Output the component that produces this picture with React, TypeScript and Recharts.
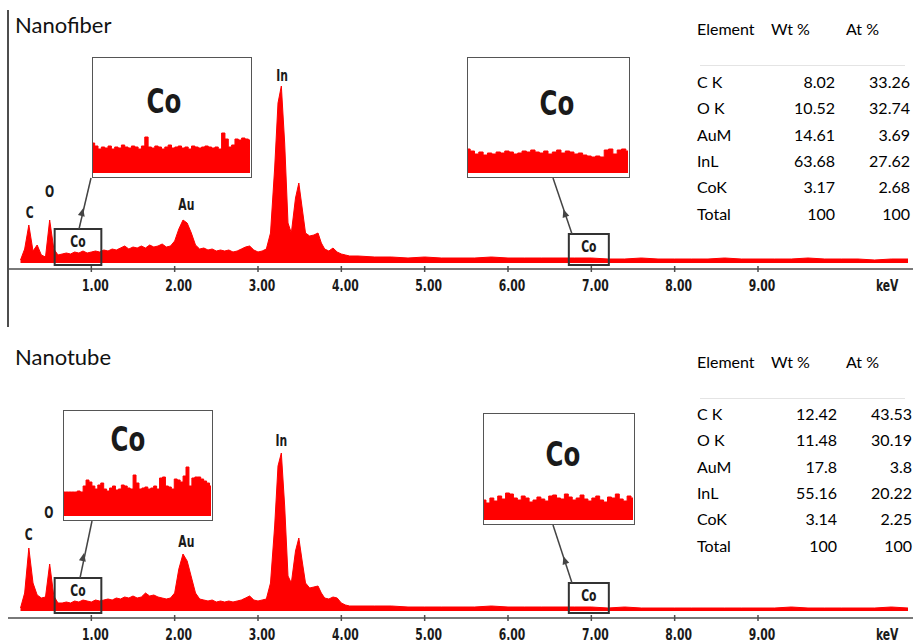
import { AreaChart, Area, XAxis, YAxis, ReferenceDot, ReferenceArea } from 'recharts'

const RED = '#ff0000'
const AXIS = '#4d4d4d'
const NARROW = '"Liberation Sans Narrow", "DejaVu Sans Condensed", sans-serif'
const TEXT = 'Lato, "Open Sans", sans-serif'

// energy axis (keV), shared by both spectra
const energy = [
  0.15, 0.2, 0.25, 0.3, 0.35, 0.4, 0.45, 0.5, 0.55, 0.6,
  0.65, 0.7, 0.75, 0.8, 0.85, 0.9, 0.95, 1.0, 1.05, 1.1,
  1.15, 1.2, 1.25, 1.3, 1.35, 1.4, 1.45, 1.5, 1.55, 1.6,
  1.65, 1.7, 1.75, 1.8, 1.85, 1.9, 1.95, 2.0, 2.05, 2.1,
  2.15, 2.2, 2.25, 2.3, 2.35, 2.4, 2.45, 2.5, 2.55, 2.6,
  2.65, 2.7, 2.75, 2.8, 2.85, 2.9, 2.95, 3.0, 3.05, 3.1,
  3.15, 3.2, 3.24, 3.28, 3.32, 3.36, 3.4, 3.45, 3.49, 3.53,
  3.57, 3.62, 3.67, 3.72, 3.76, 3.8, 3.85, 3.9, 3.95, 4.0,
  4.05, 4.1, 4.2, 4.4, 4.6, 4.8, 5.0, 5.2, 5.4, 5.6,
  5.8, 6.0, 6.2, 6.4, 6.6, 6.8, 7.0, 7.2, 7.4, 7.6,
  7.8, 8.0, 8.2, 8.4, 8.6, 8.8, 9.0, 9.2, 9.4, 9.6,
  9.8, 10.0, 10.2, 10.4, 10.6, 10.8,
]

const fiberCounts = [
  3, 14, 38, 12, 18, 8, 6, 43, 14, 8,
  9, 10, 9, 11, 10, 12, 10, 11, 12, 11,
  13, 12, 14, 13, 15, 17, 14, 16, 15, 17,
  15, 18, 16, 17, 19, 16, 17, 22, 34, 43,
  40, 30, 18, 14, 15, 13, 14, 12, 13, 12,
  13, 11, 12, 14, 16, 17, 13, 11, 12, 14,
  30, 95, 160, 177, 120, 40, 30, 65, 80, 55,
  30, 27, 28, 30, 20, 14, 12, 15, 11, 9,
  8, 7, 7, 6, 6, 5, 6, 5, 5, 5,
  6, 5, 5, 5, 5, 5, 5, 4, 4, 5,
  4, 4, 4, 4, 5, 4, 4, 4, 4, 5,
  4, 4, 4, 3, 4, 4,
]

const tubeCounts = [
  3, 18, 63, 28, 16, 13, 14, 47, 15, 8,
  8, 9, 8, 10, 9, 11, 10, 9, 11, 10,
  11, 12, 11, 13, 12, 14, 13, 15, 13, 14,
  18, 15, 16, 14, 13, 12, 13, 18, 42, 57,
  50, 34, 18, 12, 11, 10, 11, 9, 10, 9,
  10, 9, 10, 11, 13, 15, 11, 10, 11, 12,
  28, 85, 145, 158, 105, 35, 28, 60, 73, 50,
  28, 23, 24, 25, 18, 13, 12, 14, 13, 8,
  6, 5, 5, 5, 5, 4, 4, 4, 4, 4,
  5, 4, 4, 4, 4, 4, 4, 3, 4, 3,
  3, 3, 3, 3, 3, 3, 3, 3, 4, 3,
  3, 3, 3, 3, 4, 3,
]

const kevTicks = [1, 2, 3, 4, 5, 6, 7, 8, 9]
const unitTick = 10.55

const peakNames = ['C', 'O', 'Au', 'In']
const fiberPeakKeV = [0.26, 0.5, 2.14, 3.29]
const fiberPeakY = [50, 71, 58, 187]
const tubePeakKeV = [0.25, 0.49, 2.14, 3.28]
const tubePeakY = [76, 98, 69, 170]

// zoomed Co windows (counts inside the inset)
const fiberCoLow = [30, 27, 24, 26, 25, 27, 24, 26, 25, 28, 26, 25, 27, 26, 24, 27, 36, 26, 25, 27, 26, 24, 26, 28, 25, 26, 27, 25, 26, 24, 27, 26, 25, 26, 27, 26, 25, 26, 24, 40, 34, 26, 28, 34, 33, 35, 34, 33]
const fiberCoHigh = [24, 22, 19, 21, 18, 20, 19, 21, 20, 22, 21, 19, 20, 22, 21, 23, 21, 20, 22, 19, 21, 23, 20, 22, 21, 19, 20, 18, 17, 16, 17, 16, 23, 24, 19, 23, 24, 22]
const tubeCoLow = [24, 24, 24, 24, 24, 25, 24, 30, 36, 34, 30, 27, 31, 33, 27, 25, 28, 30, 26, 27, 31, 30, 28, 27, 41, 33, 27, 28, 29, 27, 28, 30, 27, 38, 39, 30, 29, 27, 37, 36, 34, 40, 49, 30, 38, 39, 39, 37, 35, 33, 30]
const tubeCoHigh = [20, 17, 22, 19, 24, 21, 27, 26, 22, 20, 24, 22, 18, 20, 23, 21, 19, 24, 25, 22, 21, 26, 23, 20, 22, 25, 21, 19, 22, 24, 20, 18, 23, 22, 26, 21, 19, 24, 22]

const tableHead = ['Element', 'Wt %', 'At %']
const elements = ['C K', 'O K', 'AuM', 'InL', 'CoK', 'Total']
const fiberWt = ['8.02', '10.52', '14.61', '63.68', '3.17', '100']
const fiberAt = ['33.26', '32.74', '3.69', '27.62', '2.68', '100']
const tubeWt = ['12.42', '11.48', '17.8', '55.16', '3.14', '100']
const tubeAt = ['43.53', '30.19', '3.8', '20.22', '2.25', '100']

// narrow bold text, squeezed horizontally like the instrument font
function NarrowText({ x, y, size, children }: { x: number; y: number; size: number; children: any }) {
  return (
    <text
      transform={`translate(${x},${y}) scale(0.8,1)`}
      textAnchor="middle"
      style={{ fontFamily: NARROW, fontWeight: 700, fontSize: size, fill: '#1a1a1a' }}
    >
      {children}
    </text>
  )
}

function KevTick(props: any) {
  const { x, y, payload } = props
  const v = payload.value
  if (v === unitTick) {
    return <NarrowText x={x} y={y + 22} size={15}>keV</NarrowText>
  }
  return (
    <g>
      <line x1={x} x2={x} y1={y - 3} y2={y + 3} stroke={AXIS} strokeWidth={1.5} />
      <NarrowText x={x + 4} y={y + 22} size={15}>{v.toFixed(2)}</NarrowText>
    </g>
  )
}

function PeakLabel(props: any) {
  const { viewBox, value } = props
  const cx = viewBox.x + (viewBox.width || 0) / 2
  const cy = viewBox.y + (viewBox.height || 0) / 2
  return <NarrowText x={cx} y={cy + 5} size={15}>{value}</NarrowText>
}

function BoxLabel(props: any) {
  const { viewBox } = props
  return <NarrowText x={viewBox.x + viewBox.width / 2} y={viewBox.y + 18} size={15}>Co</NarrowText>
}

type Box = { x1: number; x2: number; y2: number }
type Inset = { left: number; top: number; width: number; height: number; coX: number; coY: number; noise: number[] }
type Arrow = { x1: number; y1: number; x2: number; y2: number; hx: number; hy: number }

function ArrowLine({ a }: { a: Arrow }) {
  const dx = a.x2 - a.x1
  const dy = a.y2 - a.y1
  const len = Math.hypot(dx, dy)
  const ux = dx / len
  const uy = dy / len
  const px = -uy
  const py = ux
  const tip = [a.hx + ux * 5, a.hy + uy * 5]
  const b1 = [a.hx - ux * 3 + px * 3.5, a.hy - uy * 3 + py * 3.5]
  const b2 = [a.hx - ux * 3 - px * 3.5, a.hy - uy * 3 - py * 3.5]
  return (
    <g>
      <line x1={a.x1} y1={a.y1} x2={a.x2} y2={a.y2} stroke="#444" strokeWidth={1.5} />
      <polygon points={`${tip.join(',')} ${b1.join(',')} ${b2.join(',')}`} fill="#444" />
    </g>
  )
}

function CoInset({ s }: { s: Inset }) {
  const data = s.noise.map((v, i) => ({ i, v }))
  return (
    <div style={{ position: 'absolute', left: s.left, top: s.top, width: s.width, height: s.height, border: '1.5px solid #555', background: '#fff', boxSizing: 'border-box' }}>
      <svg width={s.width} height={s.height} style={{ position: 'absolute', left: 0, top: 0 }}>
        <NarrowText x={s.coX} y={s.coY + 12} size={34}>Co</NarrowText>
      </svg>
      <div style={{ position: 'absolute', left: 0, bottom: 4 }}>
        <AreaChart width={s.width - 3} height={52} data={data} margin={{ top: 0, right: 0, bottom: 0, left: 0 }}>
          <XAxis hide type="number" dataKey="i" domain={['dataMin', 'dataMax']} />
          <YAxis hide domain={[0, 52]} />
          <Area type="step" dataKey="v" stroke={RED} fill={RED} fillOpacity={1} isAnimationActive={false} dot={false} activeDot={false} />
        </AreaChart>
      </div>
    </div>
  )
}

function Table({ headY, rowY, wt, at, wtRight, atRight }: { headY: number; rowY: number; wt: string[]; at: string[]; wtRight: number; atRight: number }) {
  const base: any = { position: 'absolute', fontFamily: TEXT, fontSize: 16, color: '#000', transform: 'translateY(-50%)', whiteSpace: 'nowrap' }
  return (
    <>
      <div style={{ ...base, left: 697, top: headY }}>{tableHead[0]}</div>
      <div style={{ ...base, left: 771, top: headY }}>{tableHead[1]}</div>
      <div style={{ ...base, left: 846, top: headY }}>{tableHead[2]}</div>
      <div style={{ position: 'absolute', left: 700, top: headY + 37, width: 205, height: 1, background: '#e4e4e4' }} />
      {elements.map((e, i) => (
        <div key={e}>
          <div style={{ ...base, left: 697, top: rowY + i * 26.3 }}>{e}</div>
          <div style={{ ...base, right: 913 - wtRight, top: rowY + i * 26.3 }}>{wt[i]}</div>
          <div style={{ ...base, right: 913 - atRight, top: rowY + i * 26.3 }}>{at[i]}</div>
        </div>
      ))}
    </>
  )
}

type PanelProps = {
  title: string
  top: number
  height: number
  bottom: number
  axisH: number
  yDomain: [number, number]
  counts: number[]
  peakKeV: number[]
  peakY: number[]
  boxes: Box[]
  insets: Inset[]
  arrows: Arrow[]
  titleY: number
  headY: number
  rowY: number
  wt: string[]
  at: string[]
  wtRight: number
  atRight: number
  frame?: boolean
}

function Panel(p: PanelProps) {
  const data = energy.map((e, i) => ({ keV: e, counts: p.counts[i] }))
  return (
    <div style={{ position: 'absolute', left: 0, top: p.top, width: 913, height: p.height }}>
      <AreaChart width={913} height={p.height} data={data} margin={{ top: 60, right: 0, left: 8, bottom: p.bottom }}>
        <XAxis
          type="number"
          dataKey="keV"
          domain={[0, 10.86]}
          ticks={[...kevTicks, unitTick]}
          interval={0}
          height={p.axisH}
          tickSize={0}
          tickMargin={0}
          tickLine={false}
          tick={<KevTick />}
          axisLine={{ stroke: AXIS, strokeWidth: 1.5 }}
        />
        <YAxis hide domain={p.yDomain} allowDataOverflow />
        <Area type="linear" dataKey="counts" stroke={RED} strokeWidth={1} fill={RED} fillOpacity={1} isAnimationActive={false} dot={false} activeDot={false} />
        {p.boxes.map((b, i) => (
          <ReferenceArea
            key={'b' + i}
            x1={b.x1}
            x2={b.x2}
            y1={-2}
            y2={b.y2}
            fill="#fff"
            fillOpacity={0}
            stroke="#333"
            strokeWidth={2}
            label={<BoxLabel />}
          />
        ))}
        {peakNames.map((n, i) => (
          <ReferenceDot key={n} x={p.peakKeV[i]} y={p.peakY[i]} r={0} label={<PeakLabel value={n} />} />
        ))}
      </AreaChart>
      {p.frame && <div style={{ position: 'absolute', left: 7, top: 10, width: 1.5, height: 317, background: AXIS }} />}
      <div style={{ position: 'absolute', left: 15, top: p.titleY, transform: 'translateY(-50%)', fontFamily: TEXT, fontSize: 22, color: '#111' }}>{p.title}</div>
      {p.insets.map((s, i) => <CoInset key={i} s={s} />)}
      <svg width={913} height={p.height} style={{ position: 'absolute', left: 0, top: 0, pointerEvents: 'none' }}>
        {p.arrows.map((a, i) => <ArrowLine key={i} a={a} />)}
      </svg>
      <Table headY={p.headY} rowY={p.rowY} wt={p.wt} at={p.at} wtRight={p.wtRight} atRight={p.atRight} />
    </div>
  )
}

export default function App() {
  return (
    <div style={{ position: 'absolute', left: 0, top: 0, width: 913, height: 644, background: '#fff', overflow: 'hidden' }}>
      <Panel
        title="Nanofiber"
        top={0}
        height={330}
        bottom={31}
        axisH={30}
        yDomain={[-6, 203]}
        counts={fiberCounts}
        peakKeV={fiberPeakKeV}
        peakY={fiberPeakY}
        boxes={[{ x1: 0.56, x2: 1.12, y2: 34 }, { x1: 6.73, x2: 7.21, y2: 29 }]}
        insets={[
          { left: 92, top: 57, width: 160, height: 121, coX: 71, coY: 43, noise: fiberCoLow },
          { left: 467, top: 57, width: 163, height: 121, coX: 89, coY: 45, noise: fiberCoHigh },
        ]}
        arrows={[
          { x1: 79, y1: 229, x2: 91, y2: 178, hx: 82, hy: 213 },
          { x1: 572, y1: 234, x2: 553, y2: 178, hx: 565, hy: 214 },
        ]}
        titleY={24}
        headY={28}
        rowY={81}
        wt={fiberWt}
        at={fiberAt}
        wtRight={835}
        atRight={910}
        frame
      />
      <Panel
        title="Nanotube"
        top={330}
        height={314}
        bottom={0}
        axisH={26}
        yDomain={[-7, 221]}
        counts={tubeCounts}
        peakKeV={tubePeakKeV}
        peakY={tubePeakY}
        boxes={[{ x1: 0.56, x2: 1.12, y2: 33 }, { x1: 6.73, x2: 7.21, y2: 28 }]}
        insets={[
          { left: 63, top: 80, width: 150, height: 111, coX: 64, coY: 28, noise: tubeCoLow },
          { left: 483, top: 83, width: 152, height: 112, coX: 79, coY: 40, noise: tubeCoHigh },
        ]}
        arrows={[
          { x1: 80, y1: 248, x2: 92, y2: 191, hx: 83, hy: 228 },
          { x1: 572, y1: 253, x2: 553, y2: 195, hx: 565, hy: 231 },
        ]}
        titleY={26}
        headY={31}
        rowY={83}
        wt={tubeWt}
        at={tubeAt}
        wtRight={837}
        atRight={912}
      />
    </div>
  )
}
